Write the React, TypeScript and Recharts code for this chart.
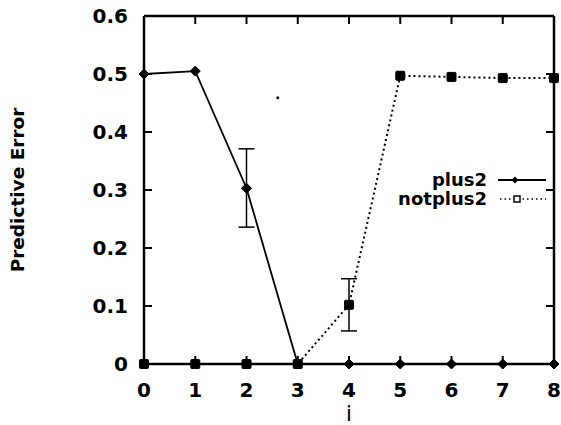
import React from "react";
import { LineChart, Line, XAxis, YAxis, ErrorBar, ReferenceDot, ReferenceLine } from "recharts";

const iValues = [0, 1, 2, 3, 4, 5, 6, 7, 8];
const yTicks = [0, 0.1, 0.2, 0.3, 0.4, 0.5, 0.6];
const plus2 = [0.5, 0.505, 0.303, 0, 0, 0, 0, 0, 0];
const plus2Err: (number[] | null)[] = [null, null, [0.067, 0.068], null, null, null, null, null, null];
const notplus2 = [0, 0, 0, 0, 0.102, 0.497, 0.495, 0.493, 0.493];
const notplus2Err: (number[] | null)[] = [null, null, null, null, [0.045, 0.045], null, null, null, null];
const speck = { i: 2.61, v: 0.459 };

const data = iValues.map((i, k) => ({
  i,
  plus2: plus2[k],
  plus2Err: plus2Err[k],
  notplus2: notplus2[k],
  notplus2Err: notplus2Err[k],
}));

const X_MAX = 8;
const Y_MAX = 0.6;
// inward tick length (~8px) in axis units
const TICK_DX = 0.156;
const TICK_DY = 0.0138;

const FONT = "'DejaVu Sans', sans-serif";
const tickStyle = { fontFamily: FONT, fontWeight: 700, fontSize: 20, fill: "#000" };
const frame = { stroke: "#000", strokeWidth: 2.5 };

const inner = <T,>(arr: T[]) => arr.slice(1, -1);
const tickSegments = [
  ...inner(iValues).flatMap((i) => [
    [{ x: i, y: 0 }, { x: i, y: TICK_DY }],
    [{ x: i, y: Y_MAX }, { x: i, y: Y_MAX - TICK_DY }],
  ]),
  ...inner(yTicks).flatMap((v) => [
    [{ x: 0, y: v }, { x: TICK_DX, y: v }],
    [{ x: X_MAX, y: v }, { x: X_MAX - TICK_DX, y: v }],
  ]),
];

const noLabel = () => <g />;

const Diamond = (props: any) => {
  const { cx, cy, key } = props;
  if (cx == null || cy == null) return <g key={key} />;
  const s = 5;
  return (
    <path
      key={key}
      d={`M${cx},${cy - s}L${cx + s},${cy}L${cx},${cy + s}L${cx - s},${cy}Z`}
      fill="#000"
      stroke="#000"
    />
  );
};

const Square = (props: any) => {
  const { cx, cy, key } = props;
  if (cx == null || cy == null) return <g key={key} />;
  const s = 4.5;
  return <rect key={key} x={cx - s} y={cy - s} width={2 * s} height={2 * s} fill="#000" stroke="#000" rx={1} />;
};

export default function App() {
  return (
    <div style={{ position: "absolute", left: 0, top: 0, width: 561, height: 425, background: "#fff" }}>
      <LineChart width={561} height={425} data={data} margin={{ top: 16, right: 7, bottom: 0, left: 0 }}>
        <XAxis
          dataKey="i"
          type="number"
          domain={[0, X_MAX]}
          ticks={iValues}
          height={61}
          tickSize={0}
          tickMargin={19}
          tick={tickStyle}
          axisLine={frame}
          tickLine={false}
          label={{ value: "i", position: "insideBottom", offset: 4, style: { fontFamily: FONT, fontSize: 21, fill: "#000" } }}
        />
        <YAxis
          type="number"
          domain={[0, Y_MAX]}
          ticks={yTicks}
          width={144}
          tickSize={0}
          tickMargin={16}
          tick={tickStyle}
          tickFormatter={(v: number) => (v === 0 ? "0" : v.toFixed(1))}
          axisLine={frame}
          tickLine={false}
          label={{
            value: "Predictive Error",
            angle: -90,
            position: "insideLeft",
            offset: 17,
            style: { textAnchor: "middle", fontFamily: FONT, fontWeight: 700, fontSize: 18.5, fill: "#000" },
          }}
        />
        <XAxis
          xAxisId="top"
          orientation="top"
          mirror
          type="number"
          domain={[0, X_MAX]}
          ticks={iValues}
          tick={noLabel}
          axisLine={frame}
          tickLine={false}
        />
        <YAxis
          yAxisId="right"
          orientation="right"
          mirror
          type="number"
          domain={[0, Y_MAX]}
          ticks={yTicks}
          tick={noLabel}
          axisLine={frame}
          tickLine={false}
        />
        <Line xAxisId="top" yAxisId="right" dataKey="plus2" stroke="none" dot={false} activeDot={false} isAnimationActive={false} />
        {tickSegments.map((seg, k) => (
          <ReferenceLine key={`t${k}`} segment={seg} stroke="#000" strokeWidth={2} ifOverflow="visible" />
        ))}
        <Line
          dataKey="notplus2"
          stroke="#000"
          strokeWidth={2}
          strokeDasharray="2 3"
          dot={Square}
          activeDot={false}
          isAnimationActive={false}
        >
          <ErrorBar dataKey="notplus2Err" width={8} stroke="#000" strokeWidth={1.5} direction="y" />
        </Line>
        <Line
          dataKey="plus2"
          stroke="#000"
          strokeWidth={1.8}
          dot={Diamond}
          activeDot={false}
          isAnimationActive={false}
        >
          <ErrorBar dataKey="plus2Err" width={8} stroke="#000" strokeWidth={1.5} direction="y" />
        </Line>
        <ReferenceDot x={speck.i} y={speck.v} r={1.5} fill="#000" stroke="none" />
      </LineChart>
      <svg width={561} height={425} style={{ position: "absolute", left: 0, top: 0, pointerEvents: "none" }}>
        <text x={487} y={186} textAnchor="end" style={{ fontFamily: FONT, fontWeight: 700, fontSize: 18 }}>
          plus2
        </text>
        <line x1={498} y1={180} x2={546} y2={180} stroke="#000" strokeWidth={1.8} />
        <path d="M515,176.5L518.5,180L515,183.5L511.5,180Z" fill="#000" />
        <text x={487} y={205} textAnchor="end" style={{ fontFamily: FONT, fontWeight: 700, fontSize: 18 }}>
          notplus2
        </text>
        <line x1={500} y1={199} x2={546} y2={199} stroke="#000" strokeWidth={1.5} strokeDasharray="1.5 3" />
        <rect x={514} y={196} width={6} height={6} fill="#fff" stroke="#000" strokeWidth={1.5} />
      </svg>
    </div>
  );
}
